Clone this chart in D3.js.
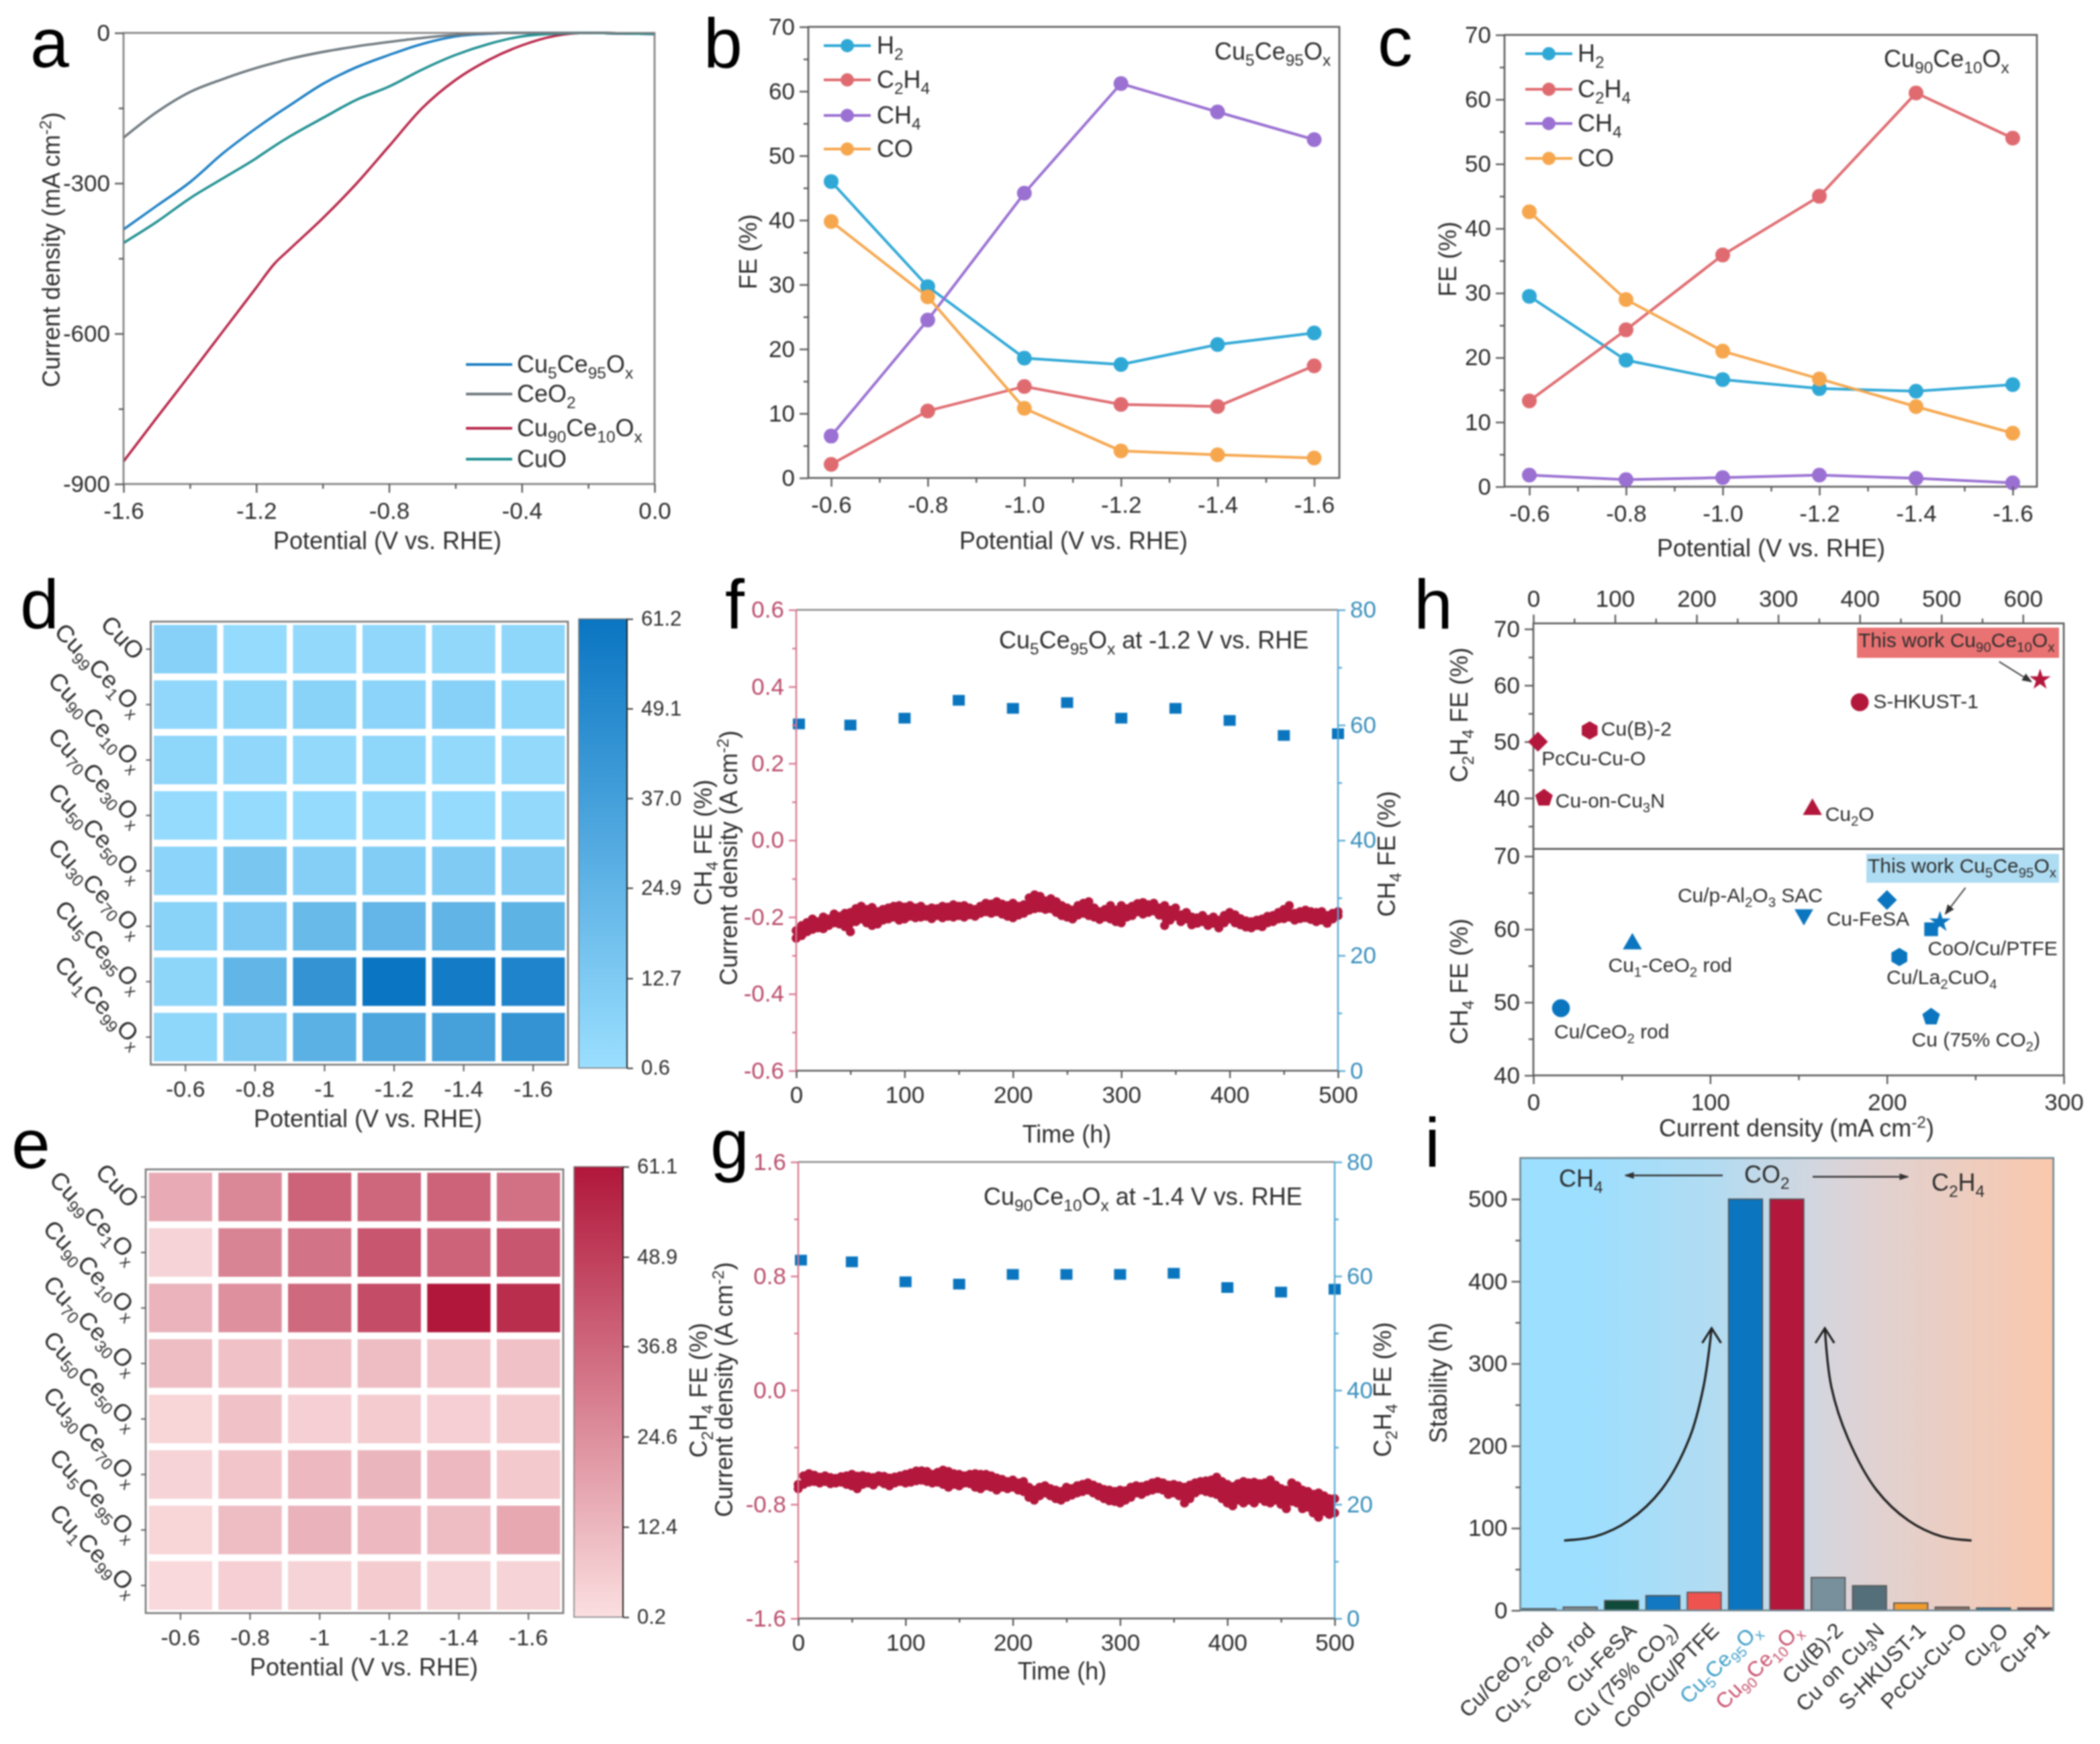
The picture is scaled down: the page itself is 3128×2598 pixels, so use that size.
<!DOCTYPE html>
<html><head><meta charset="utf-8">
<style>html,body{margin:0;background:#fff}svg{display:block;filter:blur(1px)}text{font-family:"Liberation Sans",Arial,sans-serif}</style>
<script src="https://cdn.jsdelivr.net/npm/d3@7"></script></head><body>
<script>
// ---------- data ----------
const lsvPotential=[-1.6,-1.5,-1.4,-1.3,-1.2,-1.146,-1.1,-1.0,-0.9,-0.8,-0.7,-0.6,-0.5,-0.4,-0.3,-0.2,-0.1,0];
const lsvCu90=[-855,-768,-682,-595,-508,-461,-432,-370,-302,-226,-150,-94,-54,-25,-6,0,-1,-2];
const lsvCu5=[-392,-345,-298,-240,-190,-165,-145,-102,-69,-44,-22,-7,-1.5,0,0,0,-1,-2];
const lsvCuO=[-419,-377,-330,-290,-250,-226,-207,-170,-134,-107,-73,-44,-22,-7,-1.5,0,-1,-2];
const lsvCeO2=[-209,-158,-118,-92,-70,-60,-52,-38,-27,-18,-10,-4,-0.7,0,0,0,-1,-2];
const lsvNames=["Cu_{5}Ce_{95}O_{x}","CeO_{2}","Cu_{90}Ce_{10}O_{x}","CuO"];
const fePotential=[-0.6,-0.8,-1.0,-1.2,-1.4,-1.6];
const feNames=["H_{2}","C_{2}H_{4}","CH_{4}","CO"];
const bH2=[46,29.7,18.6,17.6,20.7,22.5], bC2H4=[2.1,10.4,14.2,11.4,11.1,17.4], bCH4=[6.5,24.5,44.2,61.2,56.8,52.5], bCO=[39.8,28.1,10.8,4.2,3.6,3.1];
const cH2=[29.5,19.6,16.6,15.2,14.8,15.8], cC2H4=[13.3,24.3,35.9,45,61,54], cCH4=[1.8,1.1,1.4,1.8,1.3,0.6], cCO=[42.6,29,21,16.7,12.4,8.3];
const heatCols=["-0.6","-0.8","-1","-1.2","-1.4","-1.6"];
const heatRows=["CuO","Cu_{99}Ce_{1}O_{x}","Cu_{90}Ce_{10}O_{x}","Cu_{70}Ce_{30}O_{x}","Cu_{50}Ce_{50}O_{x}","Cu_{30}Ce_{70}O_{x}","Cu_{5}Ce_{95}O_{x}","Cu_{1}Ce_{99}O_{x}"];
const heatCH4=[[9,3,4,5,4.5,6],[5,6,8,7,9,6],[6,5,4,6,4,4],[3,3,3,3.5,3,4],[7,15,10,11,12,12],[8,13,22,24,25,26],[6.5,24.5,44,61.2,57,52.5],[6,12,27,33,36,44]];
const heatC2H4=[[16,27,38,37,38,34],[4,28,33,42,38,42],[13.3,24.3,36,45,61.1,54],[11,9,10,11,8,9],[3,9,5,6,5,6],[4,8,12,13,12,7],[3,11,14,12,11,17],[2,5,4,6,4,4]];
const cbCH4=[0.6,12.7,24.9,37.0,49.1,61.2], cbC2H4=[0.2,12.4,24.6,36.8,48.9,61.1];
const feTime=[0,50,100,150,200,250,300,350,400,450,500];
const fFE=[60.2,60,61.2,64.3,62.9,63.9,61.2,62.9,60.8,58.2,58.5];
const gFE=[62.8,62.5,59,58.6,60.3,60.3,60.3,60.5,58,57.2,57.7];
// current density read every 5 h: upper and lower edge of the dotted band
const fTop=[-.235,-.222,-.214,-.205,-.212,-.200,-.205,-.192,-.198,-.190,-.188,-.178,-.172,-.180,-.175,-.186,-.180,-.176,-.172,-.170,
-.174,-.170,-.176,-.172,-.180,-.176,-.178,-.172,-.174,-.168,-.172,-.170,-.176,-.180,-.172,-.164,-.166,-.160,-.166,-.170,
-.164,-.172,-.168,-.150,-.142,-.146,-.158,-.152,-.160,-.170,-.176,-.182,-.170,-.164,-.160,-.176,-.186,-.180,-.170,-.182,
-.170,-.178,-.172,-.165,-.162,-.168,-.164,-.176,-.170,-.182,-.176,-.194,-.188,-.200,-.202,-.196,-.206,-.200,-.208,-.196,
-.188,-.194,-.204,-.210,-.212,-.208,-.205,-.198,-.196,-.188,-.180,-.170,-.190,-.186,-.182,-.186,-.188,-.186,-.196,-.190,-.186];
const fBot=[-.255,-.248,-.238,-.232,-.228,-.230,-.222,-.215,-.218,-.225,-.238,-.212,-.205,-.215,-.222,-.218,-.208,-.205,-.200,-.208,
-.205,-.198,-.202,-.200,-.198,-.204,-.196,-.202,-.198,-.200,-.196,-.200,-.194,-.198,-.190,-.186,-.190,-.186,-.192,-.198,
-.202,-.195,-.190,-.182,-.178,-.176,-.180,-.178,-.188,-.196,-.200,-.205,-.195,-.190,-.196,-.200,-.206,-.200,-.205,-.212,
-.215,-.200,-.196,-.186,-.192,-.188,-.184,-.195,-.222,-.208,-.198,-.212,-.205,-.220,-.216,-.212,-.222,-.216,-.228,-.215,
-.205,-.215,-.220,-.226,-.228,-.222,-.225,-.215,-.212,-.205,-.204,-.200,-.208,-.204,-.202,-.206,-.212,-.208,-.216,-.205,-.196];
const gTop=[-.66,-.60,-.585,-.595,-.610,-.600,-.612,-.618,-.606,-.600,-.590,-.602,-.598,-.606,-.612,-.600,-.604,-.615,-.608,-.600,
-.590,-.580,-.566,-.565,-.570,-.590,-.575,-.560,-.570,-.585,-.590,-.600,-.590,-.585,-.590,-.590,-.600,-.615,-.625,-.640,
-.630,-.650,-.640,-.680,-.700,-.680,-.670,-.690,-.700,-.710,-.680,-.690,-.670,-.660,-.650,-.665,-.680,-.695,-.700,-.710,
-.700,-.705,-.680,-.670,-.675,-.665,-.650,-.640,-.650,-.665,-.660,-.670,-.680,-.665,-.650,-.640,-.635,-.630,-.610,-.640,
-.660,-.675,-.655,-.640,-.650,-.645,-.655,-.650,-.630,-.665,-.690,-.700,-.650,-.670,-.700,-.710,-.730,-.720,-.740,-.760,-.760];
const gBot=[-.69,-.66,-.645,-.640,-.650,-.640,-.655,-.650,-.645,-.660,-.670,-.690,-.660,-.650,-.665,-.640,-.655,-.670,-.650,-.640,
-.650,-.645,-.635,-.630,-.640,-.650,-.645,-.660,-.680,-.660,-.670,-.650,-.655,-.680,-.690,-.670,-.680,-.700,-.680,-.690,
-.680,-.700,-.710,-.750,-.770,-.740,-.720,-.740,-.760,-.770,-.750,-.735,-.720,-.710,-.700,-.720,-.740,-.760,-.775,-.780,
-.790,-.770,-.750,-.720,-.730,-.710,-.700,-.690,-.700,-.730,-.720,-.740,-.790,-.760,-.720,-.700,-.710,-.720,-.730,-.760,
-.790,-.810,-.770,-.790,-.770,-.790,-.760,-.780,-.790,-.770,-.800,-.830,-.780,-.790,-.830,-.820,-.860,-.890,-.850,-.870,-.860];
const hTopNames=["PcCu-Cu-O","Cu(B)-2","Cu-on-Cu_{3}N","S-HKUST-1","Cu_{2}O"];
const hTopX=[5.6,69,13,400,342], hTopY=[50,52,40,57,38];
const hTopStar=[621,61];
const hBotNames=["Cu/CeO_{2} rod","Cu_{1}-CeO_{2} rod","Cu/p-Al_{2}O_{3} SAC","Cu-FeSA","CoO/Cu/PTFE","Cu/La_{2}CuO_{4}","Cu (75% CO_{2})"];
const hBotX=[15.6,56,153,200,225,207,225], hBotY=[49.2,58,62,64,60,56.2,48];
const hBotStar=[230,61];
const stabNames=["Cu/CeO_{2} rod","Cu_{1}-CeO_{2} rod","Cu-FeSA","Cu (75% CO_{2})","CoO/Cu/PTFE","Cu_{5}Ce_{95}O_{x}","Cu_{90}Ce_{10}O_{x}","Cu(B)-2","Cu on Cu_{3}N","S-HKUST-1","PcCu-Cu-O","Cu_{2}O","Cu-P1"];
const stabVals=[2,4,12,18,22,500,500,40,30,9,4,3,3];
const arrowLeft=[[0.61,85],[1.37,90],[2.17,109],[2.97,147],[3.64,209],[3.98,271],[4.18,343]];
const arrowRight=[[10.47,85],[9.74,90],[8.95,109],[8.16,147],[7.48,209],[7.08,271],[6.92,343]];
// ---------- styles ----------
const W=3128,H=2598,FS=36,TICK=35,AX="#5a5a5a",TXT="#2e2e2e";
const lsvColors=["#1c7fc4","#6f7a80","#b8274a","#1f8f92"];
const feColors=["#2fa8d6","#df6b70","#9a70d2","#f6a74e"];
const CRIM="#b3173c",BLUE="#0b76bf",LRED="#d9788f",LBLUE="#57a9d4",TRED="#bb4e6c",TBLUE="#3a90bd";
const stabColors=["#3a4f55","#7f8f90","#0f4a3a","#1278c2","#ee5350",BLUE,CRIM,"#78909c","#546e7a","#ef9a2e","#8d6e63","#2f6f9f","#7b2d3b"];
const svg=d3.select("body").append("svg").attr("width",W).attr("height",H).attr("viewBox",[0,0,W,H]);
svg.append("rect").attr("width",W).attr("height",H).attr("fill","#fff");
const defs=svg.append("defs");
function rich(t,s,fs){
  const re=/([_^])\{([^}]*)\}|([^_^]+)/g;let m,shift=0;
  while((m=re.exec(s))){
    const ts=t.append("tspan");
    if(m[3]!==undefined){ts.text(m[3]);if(shift){ts.attr("dy",-shift);shift=0}}
    else{const d=(m[1]==="_"?.24:-.36)*fs;ts.text(m[2]).attr("font-size",fs*.68).attr("dy",d-shift);shift=d}
  }
  return t;
}
function T(x,y,s,o={}){
  const fs=o.fs||FS;
  const t=svg.append("text").attr("font-size",fs).attr("fill",o.fill||TXT).attr("text-anchor",o.anchor||"start")
    .attr("transform",`translate(${x},${y})`+(o.rot?` rotate(${o.rot})`:""));
  return rich(t,s,fs);
}
const VT=(x,y,s,o={})=>T(x+12,y,s,{anchor:"middle",rot:-90,...o});
function axis(ax,scale,major,minor,at,o={}){
  const len=o.len||13,col=o.col||AX,lab=o.lab||TXT,fmt=o.fmt||(d=>String(d));
  const g=svg.append("g").attr("transform",ax==="l"||ax==="r"?`translate(${at},0)`:`translate(0,${at})`);
  const mk={l:d3.axisLeft,r:d3.axisRight,b:d3.axisBottom,t:d3.axisTop}[ax];
  g.call(mk(scale).tickValues(minor).tickSize(len*.55).tickFormat(""));
  const g2=svg.append("g").attr("transform",g.attr("transform"));
  g2.call(mk(scale).tickValues(major).tickSize(len).tickPadding(o.pad||7).tickFormat(fmt));
  for(const gg of [g,g2]){gg.select(".domain").remove();gg.selectAll("line").attr("stroke",col).attr("stroke-width",2.4)}
  g2.selectAll("text").attr("font-size",o.fs||TICK).attr("fill",lab).attr("font-family",'"Liberation Sans"');
  return g2;
}
function frame(x0,x1,y0,y1,col=AX){svg.append("rect").attr("x",x0).attr("y",y0).attr("width",x1-x0).attr("height",y1-y0).attr("fill","none").attr("stroke",col).attr("stroke-width",2.6)}
function letter(s,x,y){T(x,y,s,{fs:104,fill:"#000"})}
// ---------- a ----------
{
 const x=d3.scaleLinear().domain([-1.6,0]).range([184,975]),y=d3.scaleLinear().domain([0,-900]).range([49,721]);
 const line=d3.line().x((d,i)=>x(lsvPotential[i])).y(d=>y(d)).curve(d3.curveMonotoneX);
 [lsvCu5,lsvCeO2,lsvCu90,lsvCuO].forEach((s,i)=>svg.append("path").attr("d",line(s)).attr("fill","none").attr("stroke",lsvColors[i]).attr("stroke-width",3.6));
 frame(184,975,49,721,"#7d7d7d");
 axis("l",y,[0,-300,-600,-900],[-150,-450,-750],184);
 axis("b",x,[-1.6,-1.2,-0.8,-0.4,0],[-1.4,-1.0,-0.6,-0.2],721,{fmt:d=>d.toFixed(1),pad:14});
 [543,587,638,684].forEach((ly,i)=>{svg.append("line").attr("x1",694).attr("x2",763).attr("y1",ly).attr("y2",ly).attr("stroke",lsvColors[i]).attr("stroke-width",4);T(770,ly+12,lsvNames[i])});
 T(577,818,"Potential (V vs. RHE)",{anchor:"middle"});
 VT(77,372,"Current density (mA cm^{-2})");
 letter("a",45,100);
}
// ---------- b, c ----------
function fePanel(L,R,Tp,B,x6,x16,series,lx,ly,tx,annot,ax,ay,xlabY,xlabX,ytitleX,ytitleY){
 const x=d3.scaleLinear().domain([-0.6,-1.6]).range([x6,x16]),y=d3.scaleLinear().domain([0,70]).range([B,Tp]);
 const line=d3.line().x((d,i)=>x(fePotential[i])).y(d=>y(d));
 frame(L,R,Tp,B);
 series.forEach((s,i)=>{
  svg.append("path").attr("d",line(s)).attr("fill","none").attr("stroke",feColors[i]).attr("stroke-width",4);
  svg.selectAll(null).data(s).join("circle").attr("cx",(d,j)=>x(fePotential[j])).attr("cy",d=>y(d)).attr("r",11).attr("fill",feColors[i]);
  svg.append("line").attr("x1",lx[0]).attr("x2",lx[1]).attr("y1",ly[i]).attr("y2",ly[i]).attr("stroke",feColors[i]).attr("stroke-width",4);
  svg.append("circle").attr("cx",(lx[0]+lx[1])/2).attr("cy",ly[i]).attr("r",10).attr("fill",feColors[i]);
  T(tx,ly[i]+12,feNames[i]);
 });
 axis("l",y,d3.range(0,71,10),d3.range(5,70,10),L);
 axis("b",x,fePotential,[-0.7,-0.9,-1.1,-1.3,-1.5],B,{fmt:d=>d.toFixed(1),pad:14});
 T(ax,ay,annot);
 T(xlabX,xlabY,"Potential (V vs. RHE)",{anchor:"middle"});
 VT(ytitleX,ytitleY,"FE (%)");
}
fePanel(1204,1995,40,712,1238,1957.5,[bH2,bC2H4,bCH4,bCO],[1227,1297],[68,119,172,222],1306,"Cu_{5}Ce_{95}O_{x}",1809,89,818,1599,1115,375);
fePanel(2241,3034,52,725,2278,2998,[cH2,cC2H4,cCH4,cCO],[2272,2342],[80,133,184,236],2350,"Cu_{90}Ce_{10}O_{x}",2806,100,829,2638,2157,386);
letter("b",1048,100);letter("c",2052,98);
// ---------- d, e ----------
function heat(L,R,Tp,B,cbL,cbR,cbT,cbB,vals,ticks,c0,c1,id,titleX,titleY){
 const x=d3.scaleBand().domain(heatCols).range([L,R]).paddingInner(.09).paddingOuter(.045);
 const y=d3.scaleBand().domain(heatRows).range([Tp,B]).paddingInner(.125).paddingOuter(.06);
 const col=d3.scaleLinear().domain([ticks[0],ticks[5]]).range([c0,c1]);
 heatRows.forEach((r,i)=>heatCols.forEach((c,j)=>svg.append("rect").attr("x",x(c)).attr("y",y(r)).attr("width",x.bandwidth()).attr("height",y.bandwidth()).attr("fill",col(vals[i][j]))));
 frame(L,R,Tp,B,"#777");
 const gx=svg.append("g").attr("transform",`translate(0,${B})`).call(d3.axisBottom(x).tickSize(10).tickPadding(14));
 gx.select(".domain").remove();gx.selectAll("line").attr("stroke",AX).attr("stroke-width",2);
 gx.selectAll("text").attr("font-size",34).attr("fill",TXT).attr("font-family",'"Liberation Sans"');
 heatRows.forEach(r=>{
  const cy=y(r)+y.bandwidth()/2;
  svg.append("line").attr("x1",L-7).attr("x2",L).attr("y1",cy).attr("y2",cy).attr("stroke",AX).attr("stroke-width",2);
  T(L-25,cy+18,r,{anchor:"end",rot:46});
 });
 const g=defs.append("linearGradient").attr("id",id).attr("x1",0).attr("x2",0).attr("y1",1).attr("y2",0);
 g.append("stop").attr("offset",0).attr("stop-color",c0);g.append("stop").attr("offset",1).attr("stop-color",c1);
 svg.append("rect").attr("x",cbL).attr("y",cbT).attr("width",cbR-cbL).attr("height",cbB-cbT).attr("fill",`url(#${id})`).attr("stroke","#777").attr("stroke-width",1.5);
 const cy=d3.scaleLinear().domain([ticks[0],ticks[5]]).range([cbB,cbT]);
 svg.append("line").attr("x1",cbR).attr("x2",cbR).attr("y1",cbT).attr("y2",cbB).attr("stroke","#222").attr("stroke-width",2);
 const ga=svg.append("g").attr("transform",`translate(${cbR},0)`).call(d3.axisRight(cy).tickValues(ticks).tickSize(9).tickPadding(12).tickFormat(d3.format(".1f")));
 ga.select(".domain").remove();ga.selectAll("line").attr("stroke","#333").attr("stroke-width",2);
 ga.selectAll("text").attr("font-size",31).attr("fill",TXT).attr("font-family",'"Liberation Sans"');
 T(titleX,titleY,"Potential (V vs. RHE)",{anchor:"middle"});
}
heat(224.5,846,926,1586,862,934,922,1591,heatCH4,cbCH4,"#9bdfff","#0a75c2","gd",548,1679);
heat(217,839,1742,2403,855,928,1738,2409,heatC2H4,cbC2H4,"#fbdfe0","#b1173a","ge",542,2496);
letter("d",30,936);letter("e",17,1740);
// ---------- f, g ----------
function stabPanel(L,R,Tp,B,yDom,yMaj,yMin,top,bot,fe,annot,ax,ay,ttX,ttY,cx,cy,lx,ly,rx,ry,name){
 const x=d3.scaleLinear().domain([0,500]).range([L,R]),yl=d3.scaleLinear().domain(yDom).range([B,Tp]),yr=d3.scaleLinear().domain([0,80]).range([B,Tp]);
 const times=d3.range(0,501,5);
 svg.append("path").attr("d",d3.area().x((d,i)=>x(times[i])).y0((d,i)=>yl(bot[i])).y1(d=>yl(d))(top)).attr("fill",CRIM);
 [top,bot].forEach(s=>svg.selectAll(null).data(s).join("circle").attr("cx",(d,i)=>x(times[i])).attr("cy",d=>yl(d)).attr("r",6.8).attr("fill",CRIM));
 svg.selectAll(null).data(fe).join("rect").attr("x",(d,i)=>x(feTime[i])-9+(i===0?4:0)).attr("y",d=>yr(d)-8).attr("width",18).attr("height",16).attr("fill",BLUE);
 svg.append("line").attr("x1",L).attr("x2",R).attr("y1",Tp).attr("y2",Tp).attr("stroke","#8a8a8a").attr("stroke-width",2.6);
 svg.append("line").attr("x1",L).attr("x2",R).attr("y1",B).attr("y2",B).attr("stroke",AX).attr("stroke-width",2.6);
 svg.append("line").attr("x1",L).attr("x2",L).attr("y1",Tp).attr("y2",B).attr("stroke",LRED).attr("stroke-width",2.4);
 svg.append("line").attr("x1",R).attr("x2",R).attr("y1",Tp).attr("y2",B).attr("stroke",LBLUE).attr("stroke-width",2.4);
 axis("l",yl,yMaj,yMin,L,{col:LRED,lab:TRED,fmt:d=>d.toFixed(1),len:11});
 axis("r",yr,[0,20,40,60,80],[10,30,50,70],R,{col:LBLUE,lab:TBLUE,len:11});
 axis("b",x,feTime.filter((d,i)=>i%2===0),[50,150,250,350,450],B,{len:11,pad:12});
 T(ax,ay,annot);
 T(ttX,ttY,"Time (h)",{anchor:"middle"});
 VT(cx,cy,"Current density (A cm^{-2})");
 VT(lx,ly,name+" FE  (%)");
 VT(rx,ry,name+" FE (%)");
}
stabPanel(1186,1993,908.5,1595,[-.6,.6],[-.6,-.4,-.2,0,.2,.4,.6],[-.5,-.3,-.1,.1,.3,.5],fTop,fBot,fFE,"Cu_{5}Ce_{95}O_{x} at -1.2 V vs. RHE",1488,966,1589,1702,1086,1278,1048,1255,2066,1272,"CH_{4}");
stabPanel(1189,1988,1731,2411,[-1.6,1.6],[-1.6,-.8,0,.8,1.6],[-1.2,-.4,.4,1.2],gTop,gBot,gFE,"Cu_{90}Ce_{10}O_{x} at -1.4 V vs. RHE",1465,1795,1582,2502,1079,2070,1041,2071,2060,2070,"C_{2}H_{4}");
letter("f",1080,936);letter("g",1058,1740);
// ---------- h ----------
{
 const L=2284,R=3074,Tp=928.6,Mid=1264.6,B=1602,LFS=30;
 const xb=d3.scaleLinear().domain([0,300]).range([L,R]),xt=d3.scaleLinear().domain([0,650]).range([L,R]);
 const yt=d3.scaleLinear().domain([30.98,71]).range([Mid,Tp]),yb=d3.scaleLinear().domain([40,71]).range([B,Mid]);
 const poly=(n,rot=0)=>({draw(c,s){const r=Math.sqrt(s);for(let i=0;i<n;i++){const a=rot+i*2*Math.PI/n;const px=r*Math.sin(a),py=-r*Math.cos(a);i?c.lineTo(px,py):c.moveTo(px,py)}c.closePath()}});
 const DIA=poly(4),PEN=poly(5),HEX=poly(6),TRI=poly(3),INV=poly(3,Math.PI),SQ=poly(4,Math.PI/4);
 const sym=(ty,s)=>d3.symbol().type(ty).size(s)();
 frame(L,R,Tp,B);
 svg.append("line").attr("x1",L).attr("x2",R).attr("y1",Mid).attr("y2",Mid).attr("stroke",AX).attr("stroke-width",2.6);
 axis("l",yt,[40,50,60,70],[35,45,55,65],L,{len:13});
 axis("l",yb,[40,50,60,70],[45,55,65],L,{len:13});
 axis("b",xb,[0,100,200,300],[50,150,250],B,{pad:14});
 axis("t",xt,[0,100,200,300,400,500,600],[50,150,250,350,450,550],Tp,{pad:12});
 svg.append("rect").attr("x",2766).attr("y",935).attr("width",301).attr("height",45).attr("fill","#e97272");
 svg.append("rect").attr("x",2780).attr("y",1272).attr("width",287).attr("height",43).attr("fill","#aedcf2");
 const tShapes=[[DIA,220],[HEX,185],[PEN,190],[d3.symbolCircle,560],[TRI,270]];
 const tOff=[[5.5,35],[17,8],[17,14],[20,9],[19,17]];
 hTopNames.forEach((n,i)=>{
  const px=xt(hTopX[i]),py=yt(hTopY[i]);
  svg.append("path").attr("d",sym(tShapes[i][0],tShapes[i][1])).attr("transform",`translate(${px},${py})`).attr("fill",CRIM);
  T(px+tOff[i][0],py+tOff[i][1],n,{fs:LFS});
 });
 const bShapes=[[d3.symbolCircle,560],[TRI,270],[INV,260],[DIA,220],[SQ,210],[HEX,185],[PEN,190]];
 const bOff=[[-10,45],[-36,42],[-188,-19],[-90,38],[-5,39],[-19,40],[-29,44]];
 hBotNames.forEach((n,i)=>{
  const px=xb(hBotX[i]),py=yb(hBotY[i]);
  svg.append("path").attr("d",sym(bShapes[i][0],bShapes[i][1])).attr("transform",`translate(${px},${py})`).attr("fill",BLUE);
  T(px+bOff[i][0],py+bOff[i][1],n,{fs:LFS});
 });
 defs.append("marker").attr("id","ah").attr("viewBox","0 0 10 10").attr("refX",9).attr("refY",5).attr("markerUnits","userSpaceOnUse").attr("markerWidth",15).attr("markerHeight",15).attr("orient","auto").append("path").attr("d","M0,1L10,5L0,9z").attr("fill","#333");
 const sx=xt(hTopStar[0]),sy=yt(hTopStar[1]);
 svg.append("path").attr("d",sym(d3.symbolStar,310)).attr("transform",`translate(${sx},${sy})`).attr("fill",CRIM);
 svg.append("line").attr("x1",sx-61).attr("y1",sy-27).attr("x2",sx-13).attr("y2",sy+3).attr("stroke","#444").attr("stroke-width",2).attr("marker-end","url(#ah)");
 const bx=xb(hBotStar[0]),by=yb(hBotStar[1]);
 svg.append("path").attr("d",sym(d3.symbolStar,310)).attr("transform",`translate(${bx},${by})`).attr("fill",BLUE);
 svg.append("line").attr("x1",bx+38).attr("y1",by-51).attr("x2",bx+8).attr("y2",by-12).attr("stroke","#444").attr("stroke-width",2).attr("marker-end","url(#ah)");
 T(2768,964,"This work Cu_{90}Ce_{10}O_{x}",{fs:LFS});
 T(2782,1300,"This work Cu_{5}Ce_{95}O_{x}",{fs:LFS});
 T(2676,1693,"Current density (mA cm^{-2})",{anchor:"middle"});
 VT(2174,1065,"C_{2}H_{4} FE (%)");
 VT(2174,1462,"CH_{4} FE (%)");
 letter("h",2106,936);
}
// ---------- i ----------
{
 const L=2264.5,R=3058.6,Tp=1725,B=2399;
 const x=d3.scaleBand().domain(stabNames).range([L,R]).paddingInner(.18).paddingOuter(.04);
 const y=d3.scaleLinear().domain([0,550]).range([B,Tp]);
 const g=defs.append("linearGradient").attr("id","gi");
 [[0,"#9ddfff"],[.12,"#9ddfff"],[.36,"#b2dcf2"],[.56,"#d4d6de"],[.66,"#e0d2d2"],[1,"#fac8ad"]].forEach(s=>g.append("stop").attr("offset",s[0]).attr("stop-color",s[1]));
 svg.append("rect").attr("x",L).attr("y",Tp).attr("width",R-L).attr("height",B-Tp).attr("fill","url(#gi)");
 svg.selectAll(null).data(stabVals).join("rect").attr("x",(d,i)=>x(stabNames[i])).attr("width",x.bandwidth()).attr("y",d=>y(d)).attr("height",d=>B-y(d)).attr("fill",(d,i)=>stabColors[i]).attr("stroke","#555").attr("stroke-width",1.8);
 frame(L,R,Tp,B,"#6f8791");
 axis("l",y,[0,100,200,300,400,500],[50,150,250,350,450],L,{len:13,pad:6});
 stabNames.forEach((n,i)=>{
  const cx=x(n)+x.bandwidth()/2;
  const fill=i===5?"#3f9fc9":i===6?"#c9526e":TXT;
  T(cx+24,B+32,n,{anchor:"end",rot:-45,fs:32,fill});
 });
 const idx=v=>x(stabNames[0])+x.bandwidth()/2+v*x.step();
 const curve=d3.line().x(d=>idx(d[0])).y(d=>y(d[1])).curve(d3.curveCatmullRom.alpha(.5));
 [arrowLeft,arrowRight].forEach(a=>{
  svg.append("path").attr("d",curve(a)).attr("fill","none").attr("stroke","#222").attr("stroke-width",3.4);
  const [tx,ty]=a[a.length-1];const px=idx(tx),py=y(ty);
  svg.append("path").attr("d",`M${px-14},${py+22}L${px},${py}L${px+14},${py+22}`).attr("fill","none").attr("stroke","#222").attr("stroke-width",3.2);
 });
 T(2322,1768,"CH_{4}");T(2598,1762,"CO_{2}");T(2877,1774,"C_{2}H_{4}");
 const am=defs.append("marker").attr("id","ai").attr("viewBox","0 0 10 10").attr("refX",9).attr("refY",5).attr("markerUnits","userSpaceOnUse").attr("markerWidth",14).attr("markerHeight",14).attr("orient","auto");
 am.append("path").attr("d","M0,1.5L10,5L0,8.5z").attr("fill","#333");
 svg.append("line").attr("x1",2566).attr("x2",2421).attr("y1",1751).attr("y2",1751).attr("stroke","#333").attr("stroke-width",2.4).attr("marker-end","url(#ai)");
 svg.append("line").attr("x1",2700).attr("x2",2842).attr("y1",1753).attr("y2",1753).attr("stroke","#333").attr("stroke-width",2.4).attr("marker-end","url(#ai)");
 VT(2143,2060,"Stability (h)");
 letter("i",2122,1738);
}
</script></body></html>
